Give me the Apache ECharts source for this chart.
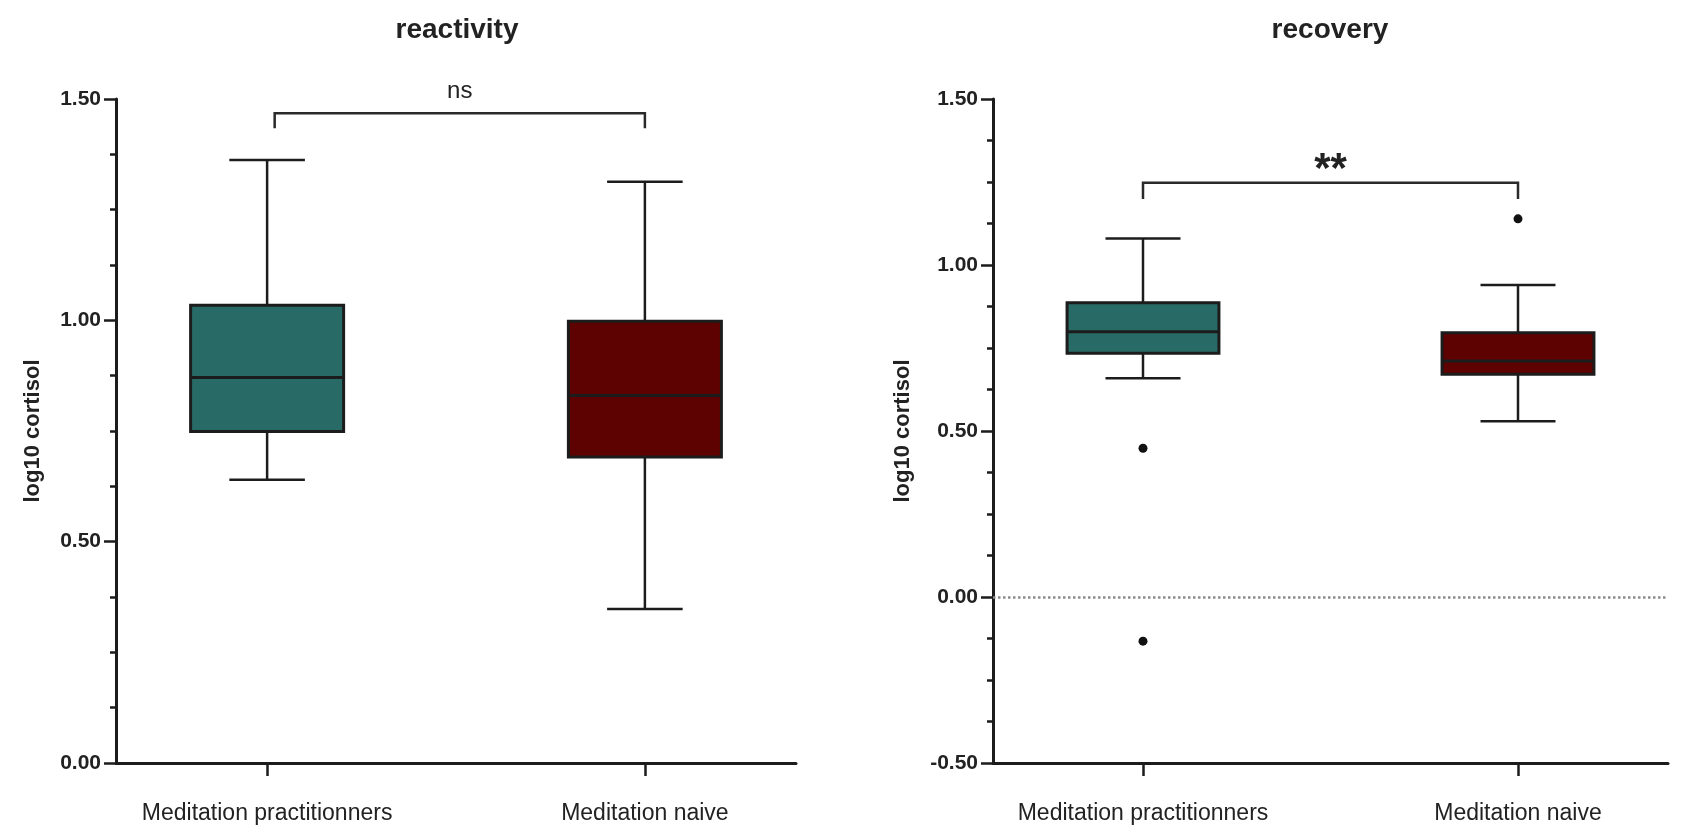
<!DOCTYPE html>
<html>
<head>
<meta charset="utf-8">
<script src="https://cdn.jsdelivr.net/npm/echarts@6/dist/echarts.min.js"></script>
<style>
  html, body { margin: 0; padding: 0; background: #fff; }
  #chart { width: 1682px; height: 828px; }
</style>
</head>
<body>
<div id="chart"></div>
<script>
// ---------------- data ----------------
const categories = ['Meditation practitionners', 'Meditation naive'];
const panelTitles = ['reactivity', 'recovery'];
const yAxisName = 'log10 cortisol';

// box stats per group: [lower whisker, Q1, median, Q3, upper whisker]
const reactivityPractitioners = [0.640, 0.749, 0.871, 1.034, 1.362];
const reactivityNaive = [0.348, 0.691, 0.830, 0.998, 1.313];
const recoveryPractitioners = [0.659, 0.734, 0.799, 0.886, 1.080];
const recoveryNaive = [0.529, 0.671, 0.711, 0.796, 0.940];

// outliers: [group index, value]
const reactivityOutliers = [];
const recoveryOutliers = [[0, 0.448], [0, -0.133], [1, 1.139]];

// significance brackets: [from group, to group, bracket top, leg end]
const reactivityBracket = [0.02, 1, 1.468, 1.434];
const recoveryBracket = [0, 1, 1.248, 1.199];
const reactivitySigLabel = 'ns';
const recoverySigLabel = '**';

// y axis ranges
const reactivityRange = [0, 1.5];
const recoveryRange = [-0.5, 1.5];
const yInterval = 0.5;
const referenceValue = 0;

// ---------------- styling ----------------
const FONT = '"Liberation Sans", Arial, Helvetica, sans-serif';
const INK = '#1c1c1c';
const boxColors = ['#286b66', '#5e0101'];

function boxData(groups) {
  return groups.map((g, i) => [i].concat(g));
}

function renderBox(params, api) {
  const x = api.value(0);
  const low = api.coord([x, api.value(1)]);
  const q1 = api.coord([x, api.value(2)]);
  const med = api.coord([x, api.value(3)]);
  const q3 = api.coord([x, api.value(4)]);
  const high = api.coord([x, api.value(5)]);
  const bw = api.size([0.405, 0])[0];
  const cw = api.size([0.2, 0])[0];
  const cx = low[0];
  const lineStyle = { stroke: INK, lineWidth: 2.5 };
  return {
    type: 'group',
    children: [
      { type: 'line', shape: { x1: cx, y1: high[1], x2: cx, y2: q3[1] }, style: lineStyle },
      { type: 'line', shape: { x1: cx, y1: q1[1], x2: cx, y2: low[1] }, style: lineStyle },
      { type: 'line', shape: { x1: cx - cw / 2, y1: high[1], x2: cx + cw / 2, y2: high[1] }, style: lineStyle },
      { type: 'line', shape: { x1: cx - cw / 2, y1: low[1], x2: cx + cw / 2, y2: low[1] }, style: lineStyle },
      { type: 'rect', shape: { x: cx - bw / 2, y: q3[1], width: bw, height: q1[1] - q3[1] },
        style: { fill: boxColors[x], stroke: INK, lineWidth: 3 } },
      { type: 'line', shape: { x1: cx - bw / 2, y1: med[1], x2: cx + bw / 2, y2: med[1] },
        style: { stroke: INK, lineWidth: 3 } }
    ]
  };
}

function makeBracketRenderer(label) {
  return function (params, api) {
    const x0 = api.value(0), x1 = api.value(1), top = api.value(2), leg = api.value(3);
    const a = api.coord([x0, leg]);
    const b = api.coord([x0, top]);
    const c = api.coord([x1, top]);
    const d = api.coord([x1, leg]);
    const isStar = label.indexOf('*') >= 0;
    return {
      type: 'group',
      children: [
        { type: 'polyline', shape: { points: [a, b, c, d] },
          style: { stroke: '#2a2a2a', lineWidth: 2.5, fill: null } },
        { type: 'text', x: (b[0] + c[0]) / 2, y: b[1] - (isStar ? 12 : 22),
          style: { text: label, align: 'center', verticalAlign: 'middle',
                   fontFamily: FONT, fontSize: isStar ? 42 : 24,
                   fontWeight: isStar ? 'bold' : 'normal', fill: '#222' } }
      ]
    };
  };
}

function xAxisFor(gridIndex) {
  return {
    type: 'value', gridIndex: gridIndex, min: -0.4, max: 1.4,
    axisLine: { show: true, onZero: false, lineStyle: { color: INK, width: 3 } },
    axisTick: { show: true, customValues: [0, 1], length: 13, lineStyle: { color: INK, width: 2.5 } },
    axisLabel: { customValues: [0, 1], formatter: v => categories[Math.round(v)] || '',
                 fontFamily: FONT, fontSize: 23, color: '#222', margin: 39 },
    splitLine: { show: false }
  };
}

function yAxisFor(gridIndex, range, nameGap) {
  return {
    type: 'value', gridIndex: gridIndex, min: range[0], max: range[1], interval: yInterval,
    name: yAxisName, nameLocation: 'middle', nameGap: nameGap,
    nameTextStyle: { fontFamily: FONT, fontSize: 22, fontWeight: 'bold', color: '#222' },
    axisLine: { show: true, onZero: false, lineStyle: { color: INK, width: 3 } },
    axisTick: { show: true, length: 12, lineStyle: { color: INK, width: 2.5 } },
    minorTick: { show: true, splitNumber: 4, length: 6, lineStyle: { color: INK, width: 2.5 } },
    axisLabel: { formatter: v => v.toFixed(2), fontFamily: FONT, fontSize: 21,
                 fontWeight: 'bold', color: '#222', margin: 15 },
    splitLine: { show: false }
  };
}

const chart = echarts.init(document.getElementById('chart'));
chart.setOption({
  animation: false,
  backgroundColor: '#ffffff',
  title: [
    { text: panelTitles[0], left: 457, top: 16, textAlign: 'center', padding: 0,
      textStyle: { fontFamily: FONT, fontSize: 28, fontWeight: 'bold', color: '#222' } },
    { text: panelTitles[1], left: 1330, top: 16, textAlign: 'center', padding: 0,
      textStyle: { fontFamily: FONT, fontSize: 28, fontWeight: 'bold', color: '#222' } }
  ],
  grid: [
    { left: 116, right: 886, top: 99, bottom: 65 },
    { left: 993, right: 14, top: 99, bottom: 65 }
  ],
  xAxis: [xAxisFor(0), xAxisFor(1)],
  yAxis: [yAxisFor(0, reactivityRange, 72), yAxisFor(1, recoveryRange, 79)],
  series: [
    { type: 'custom', xAxisIndex: 0, yAxisIndex: 0, renderItem: renderBox,
      encode: { x: 0, y: [1, 2, 3, 4, 5] },
      data: boxData([reactivityPractitioners, reactivityNaive]) },
    { type: 'custom', xAxisIndex: 1, yAxisIndex: 1, renderItem: renderBox,
      encode: { x: 0, y: [1, 2, 3, 4, 5] },
      data: boxData([recoveryPractitioners, recoveryNaive]),
      markLine: { silent: true, symbol: ['none', 'none'], label: { show: false },
        lineStyle: { type: 'dotted', color: '#8c8c8c', width: 2.5 },
        data: [{ yAxis: referenceValue }] } },
    { type: 'scatter', xAxisIndex: 0, yAxisIndex: 0, symbol: 'circle', symbolSize: 9,
      itemStyle: { color: '#111', opacity: 1 }, data: reactivityOutliers },
    { type: 'scatter', xAxisIndex: 1, yAxisIndex: 1, symbol: 'circle', symbolSize: 9,
      itemStyle: { color: '#111', opacity: 1 }, data: recoveryOutliers },
    { type: 'custom', xAxisIndex: 0, yAxisIndex: 0, renderItem: makeBracketRenderer(reactivitySigLabel),
      encode: { x: [0, 1], y: [2, 3] }, data: [reactivityBracket] },
    { type: 'custom', xAxisIndex: 1, yAxisIndex: 1, renderItem: makeBracketRenderer(recoverySigLabel),
      encode: { x: [0, 1], y: [2, 3] }, data: [recoveryBracket] }
  ]
});
</script>
</body>
</html>
